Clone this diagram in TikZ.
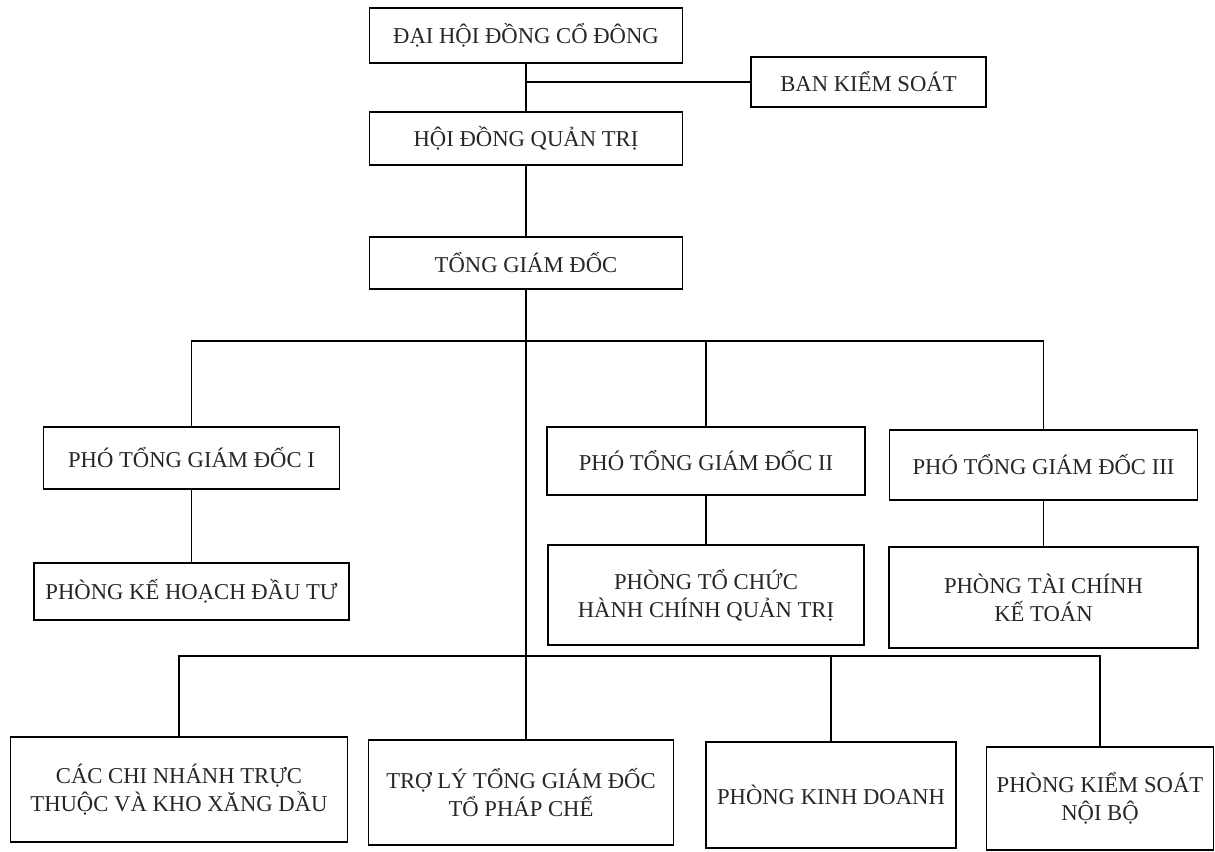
\documentclass[tikz,border=0pt]{standalone}
\usepackage{fontspec}
\setmainfont{Liberation Serif}
\begin{document}
\begin{tikzpicture}[x=0.75pt,y=-0.75pt,
  box/.style={draw=black, line width=1.1pt, align=center, inner sep=0pt,
    font=\fontsize{17}{21}\selectfont, text=black!85},
  sz/.style 2 args={minimum width=#1*0.75pt, minimum height=#2*0.75pt},
  conn/.style={draw=black, line width=1.1pt}]
\useasboundingbox (0,0) rectangle (1215,851);

% top column
\node[box, sz={313}{55}] (dhcd) at (526,35.5) {ĐẠI HỘI ĐỒNG CỔ ĐÔNG};
\node[box, sz={235}{50}] (bks) at (868.5,82) {BAN KIỂM SOÁT};
\node[box, sz={313}{53}] (hdqt) at (526,138.5) {HỘI ĐỒNG QUẢN TRỊ};
\node[box, sz={313}{52}] (tgd) at (526,263) {TỔNG GIÁM ĐỐC};

% deputies
\node[box, sz={296}{62}] (p1) at (191.5,458) {PHÓ TỔNG GIÁM ĐỐC I};
\node[box, sz={318}{68}] (p2) at (706,461) {PHÓ TỔNG GIÁM ĐỐC II};
\node[box, sz={308}{70}] (p3) at (1043.5,465) {PHÓ TỔNG GIÁM ĐỐC III};

% departments under deputies
\node[box, sz={315}{57}] (pk) at (191.5,591.5) {PHÒNG KẾ HOẠCH ĐẦU TƯ};
\node[box, sz={316}{100}] (ptc) at (706,595) {PHÒNG TỔ CHỨC\\HÀNH CHÍNH QUẢN TRỊ};
\node[box, sz={309}{101}] (ptk) at (1043.5,597.5) {PHÒNG TÀI CHÍNH\\KẾ TOÁN};

% bottom row
\node[box, sz={337}{105}] (b1) at (179,789.5) {CÁC CHI NHÁNH TRỰC\\THUỘC VÀ KHO XĂNG DẦU};
\node[box, sz={305}{105}] (b2) at (521,792.5) {TRỢ LÝ TỔNG GIÁM ĐỐC\\TỔ PHÁP CHẾ};
\node[box, sz={250}{106}] (b3) at (831,795) {PHÒNG KINH DOANH};
\node[box, sz={227}{103}] (b4) at (1100,798.5) {PHÒNG KIỂM SOÁT\\NỘI BỘ};

\coordinate (ub) at (0,341);
\coordinate (lb) at (0,656);

% connectors
\draw[conn] (dhcd.south) -- (hdqt.north);
\draw[conn] (dhcd.south |- bks.west) -- (bks.west);
\draw[conn] (hdqt.south) -- (tgd.north);
\draw[conn] (tgd.south) -- (tgd.south |- b2.north);

\draw[conn] (p1.north) -- (p1.north |- ub) -- (p3.north |- ub) -- (p3.north);
\draw[conn] (p2.north) -- (p2.north |- ub);

\draw[conn] (p1.south) -- (pk.north);
\draw[conn] (p2.south) -- (ptc.north);
\draw[conn] (p3.south) -- (ptk.north);

\draw[conn] (b1.north) -- (b1.north |- lb) -- (b4.north |- lb) -- (b4.north);
\draw[conn] (b3.north) -- (b3.north |- lb);
\end{tikzpicture}
\end{document}
